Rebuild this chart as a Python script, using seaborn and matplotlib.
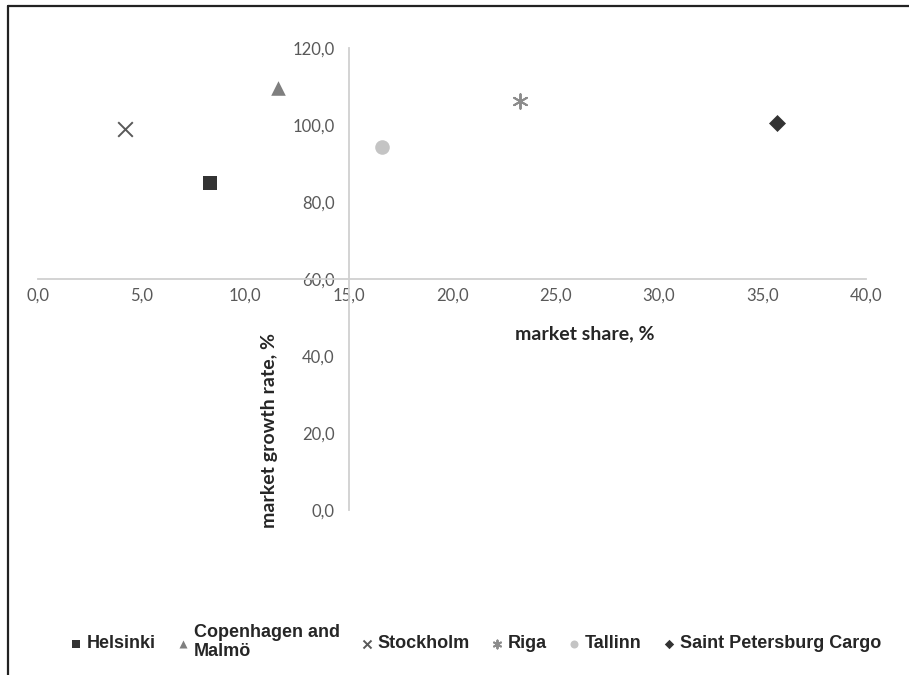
import matplotlib
matplotlib.use("Agg")
import matplotlib.pyplot as plt
import seaborn as sns
from matplotlib.lines import Line2D
from matplotlib.ticker import FuncFormatter

# ports: market share (%) vs market growth rate (%)
ports = ['Helsinki', 'Copenhagen and\nMalmö', 'Stockholm', 'Riga', 'Tallinn', 'Saint Petersburg Cargo']
market_share = [8.3, 11.6, 4.2, 23.3, 16.6, 35.7]
growth_rate = [84.9, 109.6, 99.0, 106.3, 94.3, 100.5]

markers = ['s', '^', 'x', (6, 2, 0), 'o', 'D']
colors = ['#333333', '#7f7f7f', '#595959', '#8c8c8c', '#c4c4c4', '#333333']
sizes = [110, 110, 110, 110, 110, 75]

x_ticks = [0, 5, 10, 15, 20, 25, 30, 35, 40]
y_ticks = [0, 20, 40, 60, 80, 100, 120]

sns.set_style("white")
plt.rcParams['font.family'] = ['Lato', 'DejaVu Sans']

fig = plt.figure(figsize=(9.09, 6.75), dpi=100)
ax = fig.add_axes([38 / 909, 1 - 510 / 675, 828 / 909, 462 / 675])

for i in range(len(ports)):
    lw = 1.4 if markers[i] in ('x', (6, 2, 0)) else 0
    sns.scatterplot(x=[market_share[i]], y=[growth_rate[i]], ax=ax, marker=markers[i],
                    color=colors[i], s=sizes[i], linewidth=lw, edgecolor=colors[i] if lw == 0 else None,
                    label=ports[i])

ax.set_xlim(0, 40)
ax.set_ylim(0, 120)
ax.set_xticks(x_ticks)
ax.set_yticks(y_ticks)
fmt = FuncFormatter(lambda v, p: ('%.1f' % v).replace('.', ','))
ax.xaxis.set_major_formatter(fmt)
ax.yaxis.set_major_formatter(fmt)

ax.spines['left'].set_position(('data', 15))
ax.spines['bottom'].set_position(('data', 60))
ax.spines['top'].set_visible(False)
ax.spines['right'].set_visible(False)
for side in ['left', 'bottom']:
    ax.spines[side].set_color('#d0d0d0')
    ax.spines[side].set_linewidth(1.3)
ax.tick_params(axis='both', length=0, labelsize=12, labelcolor='#595959')
ax.tick_params(axis='y', pad=10)
ax.tick_params(axis='x', pad=6)
ax.set_xlabel('')
ax.set_ylabel('')

ax.text((585 - 38) / 828, (510 - 334) / 462, 'market share, %', transform=ax.transAxes,
        ha='center', va='center', fontsize=14, fontweight='bold', color='#262626')
ax.text((270 - 38) / 828, (510 - 431) / 462, 'market growth rate, %', transform=ax.transAxes,
        ha='center', va='center', rotation=90, fontsize=14, fontweight='bold', color='#262626')

leg = ax.legend(loc='center', bbox_to_anchor=(474 / 909, 1 - 642 / 675), bbox_transform=fig.transFigure,
                ncol=6, frameon=False, markerscale=0.55, handletextpad=0.1, columnspacing=1.0,
                handlelength=1.0, prop={'family': ['Liberation Sans Narrow', 'Liberation Sans'],
                                        'weight': 'bold', 'size': 13})
for t in leg.get_texts():
    t.set_color('#262626')

# outer frame (left and top edges only)
fig.add_artist(Line2D([8 / 909, 8 / 909], [0, 1 - 6 / 675], transform=fig.transFigure, color='#222222', lw=1.6))
fig.add_artist(Line2D([8 / 909, 1], [1 - 6 / 675, 1 - 6 / 675], transform=fig.transFigure, color='#222222', lw=1.6))

fig.savefig('out.png', dpi=100)
